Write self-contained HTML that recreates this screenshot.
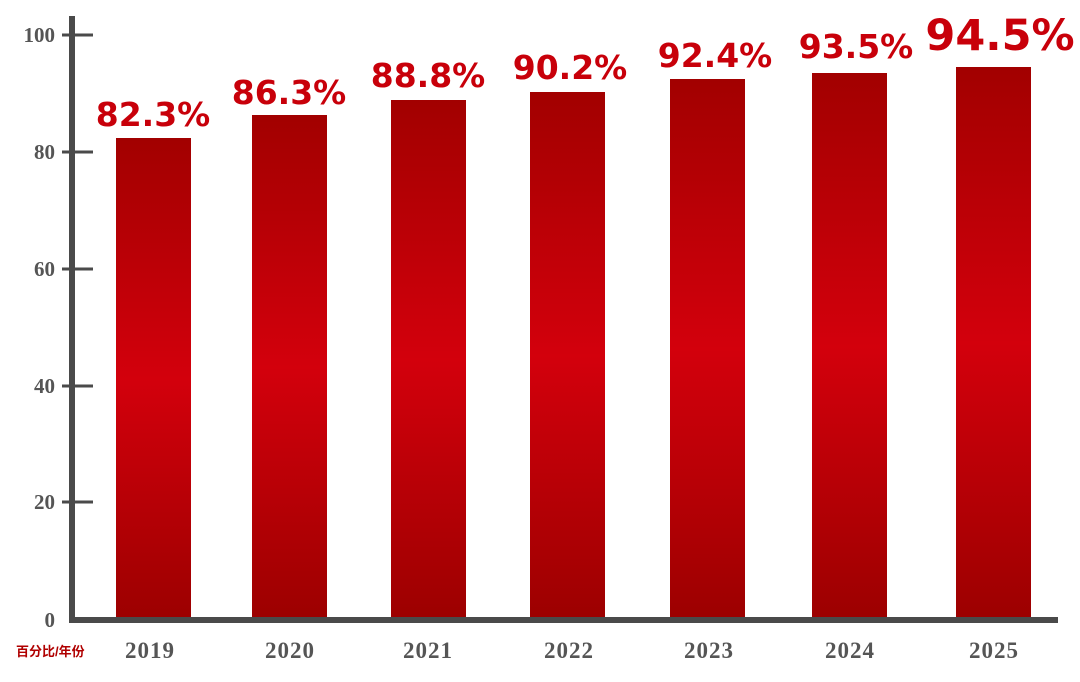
<!DOCTYPE html>
<html><head><meta charset="utf-8"><style>
body{margin:0;background:#fff;}
</style></head><body>
<svg width="1080" height="677" xmlns="http://www.w3.org/2000/svg">
<defs>
<linearGradient id="g" x1="0" y1="0" x2="0" y2="1">
<stop offset="0" stop-color="#a20000"/>
<stop offset="0.5" stop-color="#d3000c"/>
<stop offset="1" stop-color="#9c0000"/>
</linearGradient>
</defs>
<g fill="url(#g)">
<rect x="116" y="138" width="75" height="482"/>
<rect x="252" y="115" width="75" height="505"/>
<rect x="391" y="100" width="75" height="520"/>
<rect x="530" y="92" width="75" height="528"/>
<rect x="670" y="79" width="75" height="541"/>
<rect x="812" y="73" width="75" height="547"/>
<rect x="956" y="67" width="75" height="553"/>
</g>
<g stroke="#4a4a4a">
<line x1="72" y1="16" x2="72" y2="623" stroke-width="6"/>
<line x1="69" y1="620" x2="1058" y2="620" stroke-width="6"/>
<g stroke-width="3">
<line x1="62" y1="35" x2="93" y2="35"/>
<line x1="62" y1="152" x2="93" y2="152"/>
<line x1="62" y1="269" x2="93" y2="269"/>
<line x1="62" y1="386" x2="93" y2="386"/>
<line x1="62" y1="502" x2="93" y2="502"/>
</g>
</g>
<g font-family="Liberation Serif, serif" font-weight="bold" font-size="21" fill="#555" text-anchor="end">
<text x="55" y="42">100</text>
<text x="55" y="159">80</text>
<text x="55" y="276">60</text>
<text x="55" y="393">40</text>
<text x="55" y="509">20</text>
<text x="55" y="627">0</text>
</g>
<g font-family="Liberation Serif, serif" font-weight="bold" font-size="23" fill="#555" text-anchor="middle" letter-spacing="1">
<text x="150" y="658">2019</text>
<text x="290" y="658">2020</text>
<text x="428" y="658">2021</text>
<text x="569" y="658">2022</text>
<text x="709" y="658">2023</text>
<text x="850" y="658">2024</text>
<text x="994" y="658">2025</text>
</g>
<text x="16" y="656" font-family="Liberation Sans, 'Noto Sans CJK SC', sans-serif" font-weight="bold" font-size="13" fill="#b00000">百分比/年份</text>
<g font-family="DejaVu Sans, sans-serif" font-weight="bold" font-size="33" fill="#c8000a" text-anchor="middle">
<text x="153" y="126">82.3%</text>
<text x="289" y="104">86.3%</text>
<text x="428" y="87">88.8%</text>
<text x="570" y="79">90.2%</text>
<text x="715" y="67">92.4%</text>
<text x="856" y="58">93.5%</text>
<text x="1000" y="50" font-size="43">94.5%</text>
</g>
</svg>
</body></html>
